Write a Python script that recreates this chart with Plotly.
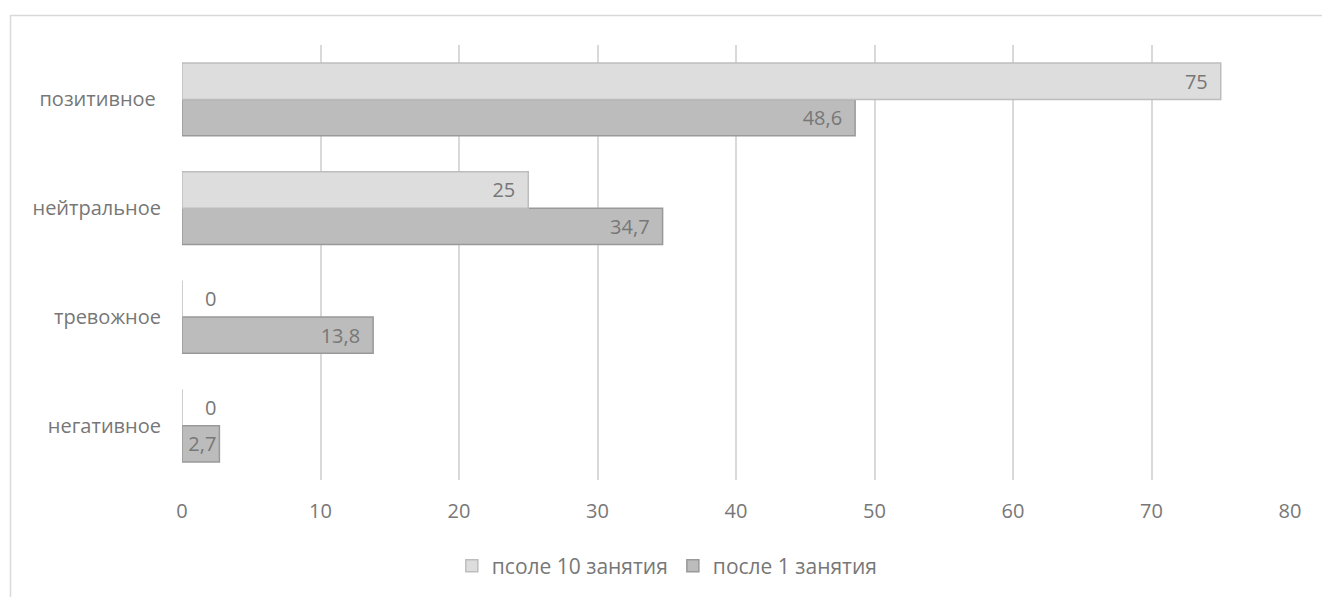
import plotly.graph_objects as go

categories = ["негативное", "тревожное", "нейтральное", "позитивное "]
after_10 = [0, 0, 25, 75]
after_1 = [2.7, 13.8, 34.7, 48.6]
series_names = ["псоле 10 занятия", "после 1 занятия"]
x_ticks = [0, 10, 20, 30, 40, 50, 60, 70, 80]

FONT = "Open Sans, Liberation Sans, sans-serif"
TXT = "#777777"
FS = 20

def fmt(v):
    s = ("%g" % v).replace(".", ",")
    if v == 0:
        return "\u2003" + s
    if v < 5:
        return s
    return s + "\u2002"

def positions(vals):
    return ["outside" if v == 0 else "inside" for v in vals]

fig = go.Figure()
fig.add_trace(go.Bar(
    y=categories, x=after_1, orientation="h", name=series_names[1],
    marker=dict(color="#bcbcbc", line=dict(color="#999999", width=1.5)),
    text=[fmt(v) for v in after_1], textposition=positions(after_1),
    insidetextanchor="end", constraintext="none", cliponaxis=False,
    textfont=dict(family=FONT, size=FS, color=TXT), legendrank=2,
))
fig.add_trace(go.Bar(
    y=categories, x=after_10, orientation="h", name=series_names[0],
    marker=dict(color="#dddddd", line=dict(color="#bdbdbd", width=1.5)),
    text=[fmt(v) for v in after_10], textposition=positions(after_10),
    insidetextanchor="end", constraintext="none", cliponaxis=False,
    textfont=dict(family=FONT, size=FS, color=TXT), legendrank=1,
))

L, R, T, B = 182, 32, 45, 116
W, H = 1322, 597
pw, ph = W - L - R, H - T - B

def px(xp):
    return (xp - L) / pw

def py(yp):
    return (H - B - yp) / ph

fig.add_shape(type="rect", xref="paper", yref="paper",
              x0=px(10.5), x1=px(1340), y0=py(640), y1=py(15.5),
              line=dict(color="#d9d9d9", width=1.5), fillcolor="rgba(0,0,0,0)", layer="below")

fig.update_layout(
    width=W, height=H,
    margin=dict(l=L, r=R, t=T, b=B),
    barmode="group", bargap=0.33, bargroupgap=0,
    plot_bgcolor="white", paper_bgcolor="white",
    font=dict(family=FONT, size=FS, color=TXT),
    showlegend=True,
    legend=dict(orientation="h", x=0.438, xanchor="center", y=py(566), yanchor="middle",
                font=dict(family=FONT, size=21, color=TXT), itemwidth=30,
                traceorder="normal"),
    xaxis=dict(range=[0, 80], tickvals=x_ticks, showgrid=True, gridcolor="#d9d9d9",
               gridwidth=1.5, zeroline=False, showline=False, ticks="",
               ticklabelstandoff=17, tickfont=dict(family=FONT, size=FS, color=TXT)),
    yaxis=dict(showgrid=False, zeroline=False, showline=False, ticks="",
               ticklabelstandoff=20, tickfont=dict(family=FONT, size=FS, color=TXT)),
)

fig.write_html("out.html")
